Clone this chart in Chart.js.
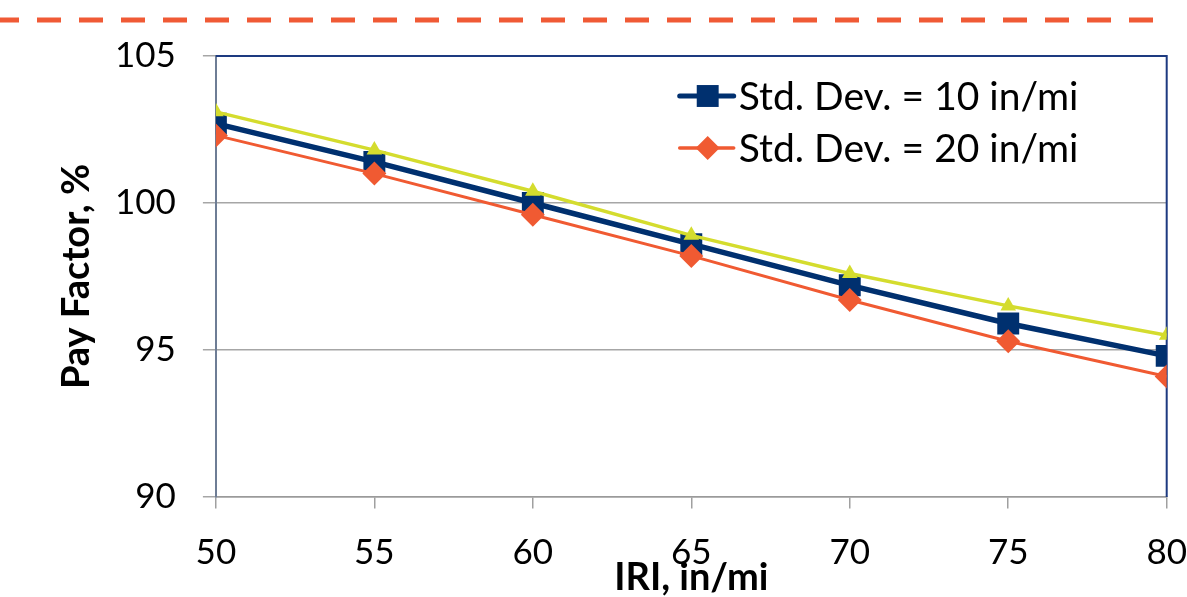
<!DOCTYPE html>
<html>
<head>
<meta charset="utf-8">
<script src="https://cdn.jsdelivr.net/npm/chart.js@4.4.1/dist/chart.umd.min.js"></script>
<style>
html, body { margin: 0; padding: 0; background: #fff; overflow: hidden; }
#wrap { position: relative; width: 1187px; height: 597px; }
</style>
</head>
<body>
<div id="wrap"><canvas id="myChart"></canvas></div>
<script>
// IRI (in/mi) on the x axis
var iri = [50, 55, 60, 65, 70, 75, 80];
// pay factor (%)
var sd10 = [102.7, 101.4, 100.0, 98.6, 97.2, 95.9, 94.8];
var sd20 = [102.3, 101.0, 99.6, 98.2, 96.7, 95.3, 94.1];
var sdLow = [103.1, 101.8, 100.4, 98.9, 97.6, 96.5, 95.5];

function pts(arr) {
    return arr.map(function (v, i) { return { x: iri[i], y: v }; });
}

Chart.defaults.font.family = 'Lato, "Open Sans", sans-serif';
Chart.defaults.color = '#000';

// dashed rule above the chart (slide decoration)
var topRule = {
    id: 'topRule',
    beforeDraw: function (chart) {
        var ctx = chart.ctx;
        ctx.save();
        ctx.strokeStyle = '#f05a35';
        ctx.lineWidth = 5;
        ctx.setLineDash([24, 18]);
        ctx.lineDashOffset = 5;
        ctx.beginPath();
        ctx.moveTo(0, 20);
        ctx.lineTo(1162, 20);
        ctx.stroke();
        ctx.restore();
    }
};

// navy frame on top and right of plot area
var plotFrame = {
    id: 'plotFrame',
    beforeDatasetsDraw: function (chart) {
        var a = chart.chartArea, ctx = chart.ctx;
        ctx.save();
        ctx.strokeStyle = '#1d3a80';
        ctx.lineWidth = 2;
        ctx.beginPath();
        ctx.moveTo(a.left, a.top);
        ctx.lineTo(a.right, a.top);
        ctx.lineTo(a.right, a.bottom);
        ctx.stroke();
        ctx.restore();
    }
};

// legend inside the plot, top right, two rows
var innerLegend = {
    id: 'innerLegend',
    afterDatasetsDraw: function (chart) {
        var a = chart.chartArea, ctx = chart.ctx;
        var x0 = a.right - 487;
        ctx.save();
        ctx.font = '39px Lato';
        ctx.textBaseline = 'middle';
        chart.data.datasets.forEach(function (ds) {
            if (!ds.showInLegend) return;
            var y = a.top + 40 + ds.legendRow * 52;
            ctx.strokeStyle = ds.borderColor;
            ctx.lineWidth = ds.legendLineWidth;
            ctx.lineCap = 'round';
            ctx.beginPath();
            ctx.moveTo(x0, y);
            ctx.lineTo(x0 + 54, y);
            ctx.stroke();
            ctx.fillStyle = ds.pointBackgroundColor;
            Chart.helpers.drawPoint(ctx, {
                pointStyle: ds.pointStyle, radius: ds.pointRadius, rotation: 0, borderWidth: 0
            }, x0 + 28, y);
            ctx.fillStyle = '#000';
            ctx.fillText(ds.label, x0 + 59, y + 1);
        });
        ctx.restore();
    }
};

var ctx1 = document.getElementById('myChart').getContext('2d');
var myChart = new Chart(ctx1, {
    type: 'line',
    data: {
        datasets: [{
            label: 'Std. Dev. = 10 in/mi',
            data: pts(sd10),
            borderColor: '#00306f',
            backgroundColor: '#00306f',
            pointBackgroundColor: '#00306f',
            borderWidth: 5.5,
            pointStyle: 'rect',
            pointRadius: 15.5,
            pointBorderWidth: 0,
            order: 3,
            showInLegend: true,
            legendRow: 0,
            legendLineWidth: 5
        }, {
            label: 'Std. Dev. = 20 in/mi',
            data: pts(sd20),
            borderColor: '#f05a32',
            backgroundColor: '#f05a32',
            pointBackgroundColor: '#f05a32',
            borderWidth: 3,
            pointStyle: 'rectRot',
            pointRadius: 12,
            pointBorderWidth: 0,
            order: 2,
            showInLegend: true,
            legendRow: 1,
            legendLineWidth: 3.5
        }, {
            label: 'Series 3',
            data: pts(sdLow),
            borderColor: '#d4dc2e',
            backgroundColor: '#d4dc2e',
            pointBackgroundColor: '#d4dc2e',
            borderWidth: 3.5,
            pointStyle: 'triangle',
            pointRadius: 9,
            pointBorderWidth: 0,
            order: 1,
            showInLegend: false
        }]
    },
    options: {
        responsive: true,
        maintainAspectRatio: false,
        animation: false,
        layout: { padding: { top: 56, left: 54, right: 0, bottom: 0 } },
        plugins: {
            legend: { display: false },
            tooltip: { enabled: false }
        },
        scales: {
            x: {
                type: 'linear',
                min: 50,
                max: 80,
                ticks: { stepSize: 5, padding: 0, font: { size: 35 } },
                grid: {
                    drawOnChartArea: false, tickLength: 35, color: '#a0a0a0', lineWidth: 1.5,
                    tickBorderDash: [11, 100]
                },
                border: { color: '#9a9a9a', width: 1.5 },
                title: {
                    display: true,
                    text: 'IRI, in/mi',
                    font: { size: 38, weight: 'bold' },
                    padding: { top: -18.8, bottom: -3.8 }
                }
            },
            y: {
                min: 90,
                max: 105,
                ticks: { stepSize: 5, padding: 27, font: { size: 35 } },
                grid: { color: '#a6a6a6', lineWidth: 1.5, tickLength: 13 },
                border: { color: '#6e7d95', width: 2 },
                title: {
                    display: true,
                    text: 'Pay Factor, %',
                    font: { size: 38, weight: 'bold' },
                    padding: { top: 0, bottom: -11.6 }
                }
            }
        }
    },
    plugins: [topRule, plotFrame, innerLegend]
});
</script>
</body>
</html>
